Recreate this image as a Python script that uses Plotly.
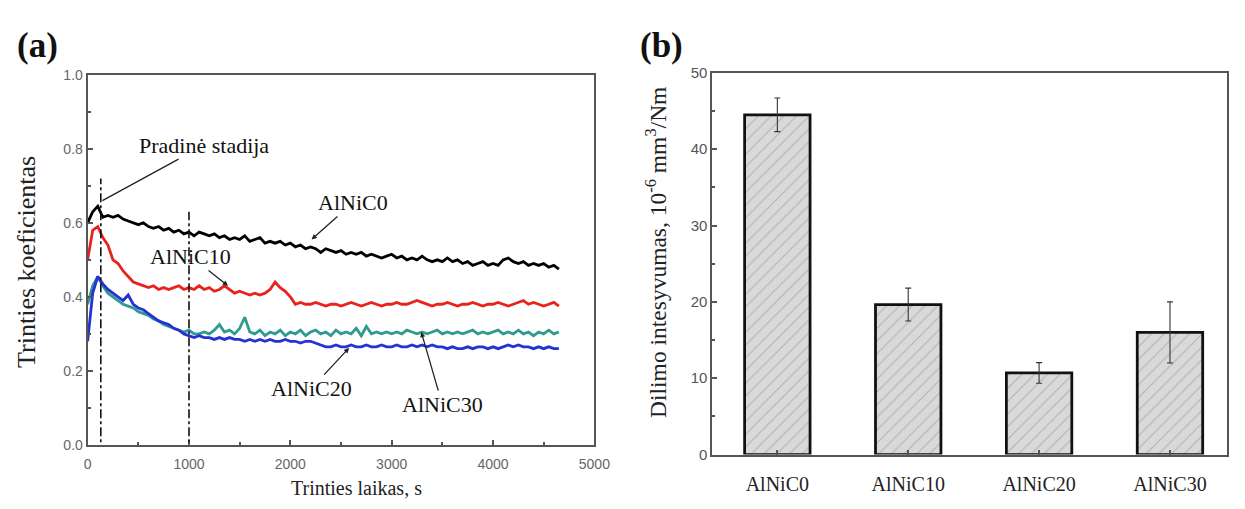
import plotly.graph_objects as go

# ---------------- data: panel (a) ----------------
time_s = [0, 50, 100, 150, 200, 250, 300, 350, 400, 450, 500, 550, 600, 650, 700, 750, 800, 850, 900, 950,
          1000, 1050, 1100, 1150, 1200, 1250, 1300, 1350, 1400, 1450, 1500, 1550, 1600, 1650, 1700, 1750,
          1800, 1850, 1900, 1950, 2000, 2050, 2100, 2150, 2200, 2250, 2300, 2350, 2400, 2450, 2500, 2550,
          2600, 2650, 2700, 2750, 2800, 2850, 2900, 2950, 3000, 3050, 3100, 3150, 3200, 3250, 3300, 3350,
          3400, 3450, 3500, 3550, 3600, 3650, 3700, 3750, 3800, 3850, 3900, 3950, 4000, 4050, 4100, 4150,
          4200, 4250, 4300, 4350, 4400, 4450, 4500, 4550, 4600, 4650]

alnic0 = [0.60, 0.63, 0.645, 0.615, 0.62, 0.615, 0.62, 0.61, 0.605, 0.60, 0.595, 0.60, 0.59, 0.585, 0.59, 0.58,
          0.585, 0.575, 0.58, 0.57, 0.575, 0.565, 0.575, 0.57, 0.565, 0.57, 0.56, 0.565, 0.555, 0.56,
          0.555, 0.565, 0.55, 0.555, 0.56, 0.545, 0.55, 0.545, 0.55, 0.54, 0.545, 0.535, 0.54, 0.53,
          0.535, 0.53, 0.52, 0.53, 0.525, 0.52, 0.525, 0.515, 0.52, 0.515, 0.52, 0.51, 0.515, 0.51,
          0.505, 0.51, 0.515, 0.505, 0.51, 0.50, 0.505, 0.50, 0.51, 0.50, 0.495, 0.50, 0.495, 0.505,
          0.495, 0.50, 0.49, 0.495, 0.485, 0.49, 0.495, 0.485, 0.49, 0.485, 0.50, 0.505, 0.495, 0.49,
          0.495, 0.485, 0.49, 0.485, 0.49, 0.48, 0.485, 0.475]

alnic10 = [0.50, 0.58, 0.59, 0.56, 0.54, 0.50, 0.49, 0.47, 0.455, 0.44, 0.435, 0.43, 0.425, 0.43, 0.42, 0.425,
           0.42, 0.425, 0.43, 0.42, 0.425, 0.42, 0.43, 0.42, 0.425, 0.415, 0.42, 0.43, 0.42, 0.41,
           0.415, 0.41, 0.405, 0.41, 0.405, 0.41, 0.42, 0.44, 0.425, 0.415, 0.40, 0.38, 0.385, 0.38,
           0.38, 0.385, 0.38, 0.375, 0.38, 0.38, 0.375, 0.38, 0.385, 0.38, 0.375, 0.38, 0.385, 0.38,
           0.375, 0.38, 0.38, 0.385, 0.38, 0.38, 0.385, 0.39, 0.385, 0.38, 0.375, 0.38, 0.38, 0.385,
           0.38, 0.375, 0.38, 0.38, 0.385, 0.38, 0.375, 0.38, 0.38, 0.385, 0.38, 0.375, 0.38, 0.385,
           0.39, 0.38, 0.385, 0.38, 0.375, 0.38, 0.385, 0.375]

alnic20 = [0.28, 0.41, 0.455, 0.435, 0.42, 0.41, 0.40, 0.39, 0.405, 0.38, 0.37, 0.365, 0.355, 0.345, 0.335,
           0.33, 0.325, 0.315, 0.31, 0.30, 0.295, 0.29, 0.295, 0.29, 0.29, 0.285, 0.29, 0.285, 0.29,
           0.285, 0.285, 0.28, 0.285, 0.28, 0.285, 0.28, 0.285, 0.28, 0.28, 0.285, 0.28, 0.28, 0.275,
           0.28, 0.28, 0.275, 0.27, 0.265, 0.265, 0.27, 0.265, 0.265, 0.27, 0.265, 0.265, 0.27, 0.265,
           0.265, 0.27, 0.265, 0.265, 0.27, 0.265, 0.265, 0.27, 0.265, 0.27, 0.265, 0.27, 0.265, 0.265,
           0.26, 0.265, 0.26, 0.26, 0.265, 0.26, 0.265, 0.265, 0.26, 0.265, 0.26, 0.265, 0.27, 0.265,
           0.27, 0.265, 0.265, 0.26, 0.265, 0.26, 0.265, 0.26, 0.26]

alnic30 = [0.38, 0.43, 0.455, 0.43, 0.41, 0.40, 0.39, 0.38, 0.375, 0.37, 0.36, 0.355, 0.35, 0.34, 0.335,
           0.325, 0.32, 0.315, 0.31, 0.305, 0.31, 0.30, 0.30, 0.305, 0.30, 0.31, 0.325, 0.305, 0.31,
           0.30, 0.315, 0.345, 0.305, 0.30, 0.31, 0.295, 0.305, 0.30, 0.31, 0.295, 0.305, 0.30, 0.31,
           0.295, 0.305, 0.31, 0.30, 0.305, 0.295, 0.31, 0.30, 0.305, 0.30, 0.315, 0.295, 0.32, 0.30,
           0.305, 0.30, 0.305, 0.30, 0.305, 0.30, 0.31, 0.305, 0.30, 0.305, 0.30, 0.305, 0.31, 0.30,
           0.305, 0.30, 0.305, 0.30, 0.305, 0.31, 0.30, 0.305, 0.30, 0.305, 0.31, 0.30, 0.305, 0.30,
           0.31, 0.30, 0.305, 0.295, 0.305, 0.30, 0.31, 0.30, 0.305]

series_names = ["AlNiC0", "AlNiC10", "AlNiC20", "AlNiC30"]
series_colors = ["#000000", "#e8231e", "#2432d6", "#2e9a90"]

stage_t = [130, 1000]
stage_top = [0.72, 0.63]

# ---------------- data: panel (b) ----------------
materials = ["AlNiC0", "AlNiC10", "AlNiC20", "AlNiC30"]
wear_rate = [44.5, 19.65, 10.7, 16.0]
wear_err = [2.2, 2.15, 1.35, 4.0]

SERIF = "Liberation Serif"
SANS = "Liberation Sans"

fig = go.Figure()

for vals, name, col in [(alnic30, "AlNiC30", series_colors[3]), (alnic20, "AlNiC20", series_colors[2]),
                        (alnic10, "AlNiC10", series_colors[1]), (alnic0, "AlNiC0", series_colors[0])]:
    fig.add_trace(go.Scatter(x=time_s, y=vals, mode="lines", name=name,
                             line=dict(color=col, width=2.8), xaxis="x", yaxis="y", showlegend=False))

fig.add_trace(go.Bar(
    x=list(range(len(materials))), y=wear_rate, width=0.5, xaxis="x2", yaxis="y2", showlegend=False,
    marker=dict(color="#d9d9d9", line=dict(color="#111111", width=2.8),
                pattern=dict(shape="/", fgcolor="#8a8a8a", size=9, solidity=0.12)),
    error_y=dict(type="data", array=wear_err, color="#333333", thickness=1.1, width=3),
))

for t, top in zip(stage_t, stage_top):
    fig.add_shape(type="line", xref="x", yref="y", x0=t, x1=t, y0=-0.025, y1=top,
                  line=dict(color="#111111", width=1.6, dash="dashdot"))

tick_font = dict(family=SANS, size=14, color="#666666")
axis_common = dict(showline=True, mirror=True, linecolor="#555555", linewidth=2, ticks="inside",
                   tickcolor="#555555", ticklen=5, tickwidth=1.5, showgrid=False, zeroline=False)

fig.update_layout(
    width=1245, height=509, margin=dict(l=0, r=0, t=0, b=0),
    paper_bgcolor="white", plot_bgcolor="white",
    xaxis=dict(domain=[85 / 1245, 600 / 1245], range=[0, 5000], dtick=1000, tickfont=tick_font,
               ticklabelstandoff=5,
               minor=dict(dtick=500, ticks="inside", ticklen=3, tickcolor="#555555"), **axis_common),
    yaxis=dict(domain=[1 - 451 / 509, 1 - 68 / 509], range=[0, 1.0], dtick=0.2, tickformat=".1f",
               tickfont=tick_font, minor=dict(dtick=0.1, ticks="inside", ticklen=3, tickcolor="#555555"),
               **axis_common),
    xaxis2=dict(domain=[720 / 1245, 1243 / 1245], range=[-0.496, 3.436], tickvals=list(range(len(materials))),
                ticktext=materials, tickfont=dict(family=SERIF, size=20, color="#222222"), anchor="y2",
                ticklabelstandoff=10, **axis_common),
    yaxis2=dict(domain=[1 - 461 / 509, 1 - 66 / 509], range=[0, 50], dtick=10, anchor="x2",
                tickfont=dict(family=SANS, size=15, color="#555555"),
                minor=dict(dtick=5, ticks="inside", ticklen=3, tickcolor="#555555"), **axis_common),
)

ann_font = dict(family=SERIF, size=22, color="#111111")
arrow_kw = dict(xref="x", yref="y", axref="x", ayref="y", showarrow=True, arrowwidth=1.3,
                arrowcolor="#222222", xanchor="center", yanchor="middle", font=ann_font)
annotations = [
    dict(text="<b>(a)</b>", x=34 / 1245, y=1 - 38 / 509, xref="paper", yref="paper", showarrow=False,
         xanchor="center", yanchor="middle", font=dict(family=SERIF, size=35, color="#111111")),
    dict(text="<b>(b)</b>", x=668 / 1245, y=1 - 38 / 509, xref="paper", yref="paper", showarrow=False,
         xanchor="center", yanchor="middle", font=dict(family=SERIF, size=35, color="#111111")),
    dict(text="Trinties laikas, s", x=358 / 1245, y=1 - 496 / 509, xref="paper", yref="paper",
         showarrow=False, xanchor="center", yanchor="middle",
         font=dict(family=SERIF, size=20, color="#222222")),
    dict(text="Trinties koeficientas", x=23 / 1245, y=1 - 262 / 509, xref="paper", yref="paper",
         showarrow=False, textangle=-90, xanchor="center", yanchor="middle",
         font=dict(family=SERIF, size=26, color="#222222")),
    dict(text="Dilimo intesyvumas, 10<sup>-6</sup> mm<sup>3</sup>/Nm", x=662 / 1245, y=1 - 252 / 509,
         xref="paper", yref="paper", showarrow=False, textangle=-90, xanchor="center", yanchor="middle",
         font=dict(family=SERIF, size=23.5, color="#222222")),
    dict(text="Pradinė stadija", ax=1150, ay=0.81, x=146, y=0.66, arrowhead=0, **arrow_kw),
    dict(text="AlNiC0", ax=2620, ay=0.655, x=2210, y=0.555, arrowhead=2, arrowsize=0.8, **arrow_kw),
    dict(text="AlNiC10", ax=1017, ay=0.509, x=1385, y=0.43, arrowhead=2, arrowsize=0.8, **arrow_kw),
    dict(text="AlNiC20", ax=2205, ay=0.152, x=2580, y=0.262, arrowhead=2, arrowsize=0.8, **arrow_kw),
    dict(text="AlNiC30", ax=3500, ay=0.109, x=3292, y=0.305, arrowhead=2, arrowsize=0.8, **arrow_kw),
]
fig.update_layout(annotations=annotations)

fig.write_html("out.html")
